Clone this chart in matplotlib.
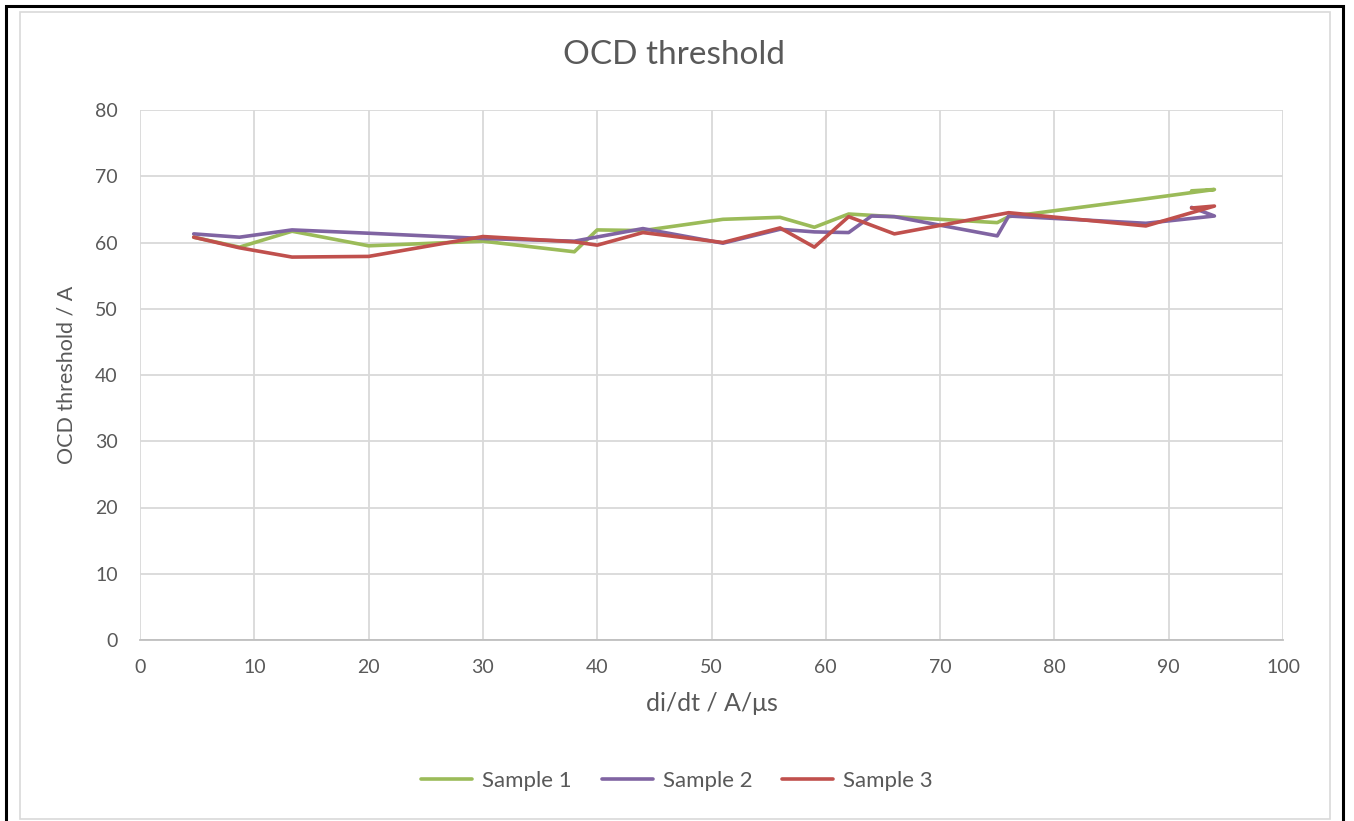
import matplotlib
matplotlib.use("Agg")
import matplotlib.pyplot as plt
from matplotlib.patches import Rectangle

plt.rcParams['font.family'] = ['Lato', 'DejaVu Sans']

# Data
s1_x = [4.7, 8.7, 13.3, 20, 30, 38, 40, 44, 51, 56, 59, 62, 66, 75, 76, 88, 94, 92]
s1_y = [60.8, 59.3, 61.7, 59.5, 60.2, 58.6, 61.9, 61.8, 63.5, 63.8, 62.3, 64.3, 63.9, 63.0, 63.9, 66.6, 68.0, 67.8]

s2_x = [4.7, 8.7, 13.3, 20, 30, 38, 44, 51, 56, 59, 62, 64, 66, 75, 76, 88, 94, 92]
s2_y = [61.3, 60.8, 61.9, 61.4, 60.6, 60.2, 62.1, 59.9, 62.0, 61.6, 61.5, 64.0, 63.9, 61.0, 64.0, 62.9, 64.0, 65.3]

s3_x = [4.7, 8.7, 13.3, 20, 30, 38, 40, 44, 51, 56, 59, 62, 66, 76, 88, 94, 92]
s3_y = [60.8, 59.2, 57.8, 57.9, 60.9, 60.1, 59.6, 61.5, 60.0, 62.2, 59.3, 63.9, 61.3, 64.5, 62.5, 65.5, 65.2]

series_names = ["Sample 1", "Sample 2", "Sample 3"]
colors = ["#9BBB59", "#8064A2", "#C0504D"]
x_ticks = list(range(0, 101, 10))
y_ticks = list(range(0, 81, 10))

W, H = 1354, 821
fig = plt.figure(figsize=(W / 100, H / 100), dpi=100)

# borders
fig.patches.append(Rectangle((6 / W, -0.01), (1343 - 6) / W, (H - 6) / H + 0.01,
                             transform=fig.transFigure, fill=False,
                             edgecolor="black", linewidth=2.2))
fig.patches.append(Rectangle((20 / W, (H - 819) / H), (1330 - 20) / W, (819 - 12) / H,
                             transform=fig.transFigure, fill=False,
                             edgecolor="#d9d9d9", linewidth=1.2))

ax = fig.add_axes([140 / W, 1 - 640 / H, (1283 - 140) / W, (640 - 110) / H])
for xs, ys, name, c in zip([s1_x, s2_x, s3_x], [s1_y, s2_y, s3_y], series_names, colors):
    ax.plot(xs, ys, color=c, linewidth=2.6, label=name, solid_joinstyle="round",
            solid_capstyle="round", zorder=3)

ax.set_xlim(0, 100)
ax.set_ylim(0, 80)
ax.set_xticks(x_ticks)
ax.set_yticks(y_ticks)
ax.grid(True, color="#d9d9d9", linewidth=1.3, zorder=0)
for sp in ["top", "right", "left"]:
    ax.spines[sp].set_visible(False)
ax.spines["bottom"].set_color("#bfbfbf")
ax.spines["bottom"].set_linewidth(1.3)
ax.tick_params(axis="both", length=0, labelsize=14, labelcolor="#595959")
ax.tick_params(axis="y", pad=16)
ax.tick_params(axis="x", pad=14)

fig.text(674 / W, 1 - 55 / H, "OCD threshold", fontsize=24, color="#595959",
         ha="center", va="center")
ax.set_xlabel("di/dt / A/μs", fontsize=18, color="#595959", labelpad=11)
ax.set_ylabel("OCD threshold / A", fontsize=15.5, color="#595959", labelpad=13)

leg = fig.legend(loc="center", bbox_to_anchor=(677 / W, 1 - 781 / H), ncol=3,
                 frameon=False, fontsize=16, handlelength=2.3, handletextpad=0.45,
                 columnspacing=1.35, labelcolor="#595959")

fig.savefig("out.png", dpi=100)
